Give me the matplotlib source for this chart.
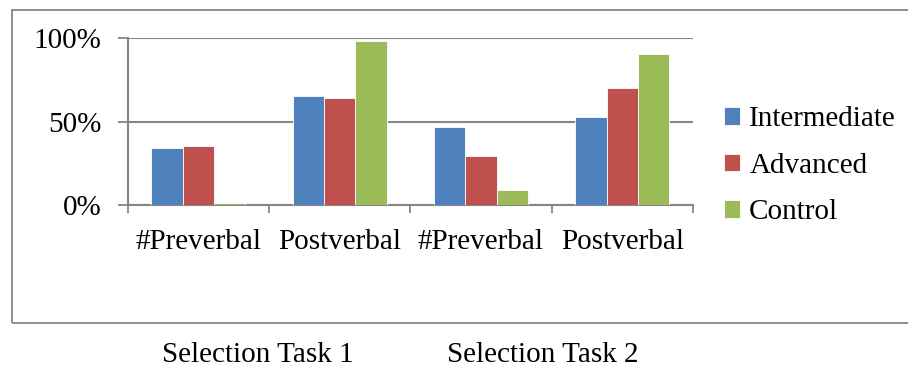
import matplotlib.pyplot as plt
import numpy as np
from matplotlib.patches import Rectangle

categories = ['#Preverbal', 'Postverbal', '#Preverbal', 'Postverbal']
series = ['Intermediate', 'Advanced', 'Control']
intermediate = [0.344, 0.652, 0.468, 0.528]
advanced = [0.356, 0.640, 0.294, 0.702]
control = [0.010, 0.986, 0.092, 0.904]
task_labels = ['Selection Task 1', 'Selection Task 2']

colors = ['#4F81BD', '#C0504D', '#9BBB59']
grid_col = '#868686'

plt.rcParams['font.family'] = ['Liberation Serif', 'DejaVu Serif']

fig = plt.figure(figsize=(9.08, 3.71), dpi=100)
ax = fig.add_axes([0.1406, 0.4474, 0.6226, 0.4494])

x = np.arange(len(categories))
w = 1 / 4.5
for i, (vals, name) in enumerate(zip([intermediate, advanced, control], series)):
    ax.bar(x + (i - 1) * w, vals, width=w, color=colors[i], edgecolor='white',
           linewidth=0.6, label=name, zorder=3)

ax.set_xlim(-0.5, 3.5)
ax.set_ylim(0, 1)
ax.set_yticks([0, 0.5, 1])
ax.set_yticklabels(['0%', '50%', '100%'])
ax.set_xticks(x)
ax.set_xticklabels(categories)
ax.set_xticks(np.arange(-0.5, 4, 1), minor=True)
ax.tick_params(axis='x', which='major', length=0, pad=17, labelsize=21)
ax.tick_params(axis='x', which='minor', length=6, width=1.3, color=grid_col)
ax.tick_params(axis='y', length=7, width=1.3, color=grid_col, pad=12, labelsize=21)

ax.yaxis.grid(True, color=grid_col, linewidth=1.5, zorder=0)
for s in ['top', 'right']:
    ax.spines[s].set_visible(False)
for s in ['left', 'bottom']:
    ax.spines[s].set_color(grid_col)
    ax.spines[s].set_linewidth(1.5)

ax.legend(loc='center left', bbox_to_anchor=(1.035, 0.235), frameon=False,
          fontsize=21, handlelength=0.55, handleheight=0.55, handletextpad=0.3,
          labelspacing=0.7, borderaxespad=0)

# outer chart border (right edge cropped in the reference)
fig.patches.append(Rectangle((12 / 908, 1 - 323 / 371), 1.0, (323 - 10) / 371,
                             transform=fig.transFigure, fill=False,
                             edgecolor=grid_col, linewidth=1.3))

fig.text(258 / 908, 1 - 355 / 371, task_labels[0], ha='center', va='center', fontsize=21)
fig.text(543 / 908, 1 - 355 / 371, task_labels[1], ha='center', va='center', fontsize=21)

fig.savefig('out.png', dpi=100)
